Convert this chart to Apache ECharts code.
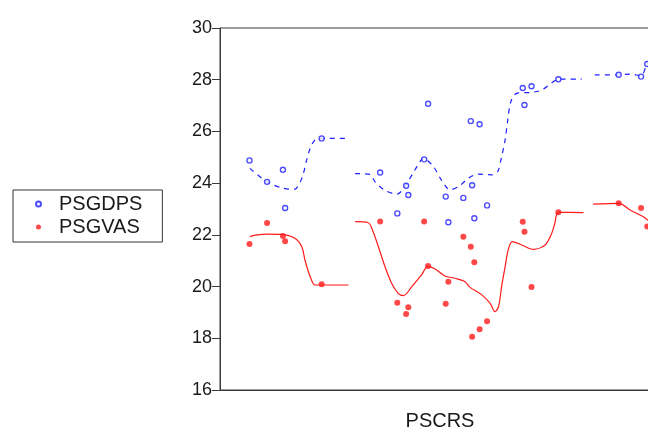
<!DOCTYPE html>
<html>
<head>
<meta charset="utf-8">
<script src="https://cdn.jsdelivr.net/npm/echarts@6/dist/echarts.min.js"></script>
<style>
  html, body { margin: 0; padding: 0; background: #fff; }
  #chart { width: 648px; height: 429px; }
</style>
</head>
<body>
<div id="chart"></div>
<script>
// PSCRS observations (horizontal position)
const pscrs = [6.7, 10.7, 14.3, 14.8, 23.1, 36.4, 40.3, 42.3, 42.8, 46.4, 47.3, 51.3, 51.9,
               55.3, 57.0, 57.3, 57.8, 59.0, 60.7, 68.8, 69.2, 70.8, 76.9, 90.6, 95.7, 97.1];
// PSGDPS observations
const psgdps = [24.88, 24.05, 24.52, 23.04, 25.73, 24.41, 22.83, 23.90, 23.54, 24.92, 27.07, 23.48, 22.49,
                23.43, 26.40, 23.92, 22.64, 26.28, 23.14, 27.68, 27.02, 27.75, 28.02, 28.19, 28.12, 28.61];
// PSGVAS observations
const psgvas = [21.65, 22.46, 21.96, 21.75, 20.09, 22.52, 19.37, 18.94, 19.20, 22.52, 20.80, 19.34, 20.19,
                21.93, 21.54, 18.06, 20.94, 18.35, 18.66, 22.51, 22.12, 19.98, 22.87, 23.22, 23.04, 22.32];

// Nearest-neighbour fit of PSGDPS on PSCRS, in three segments
const gdpsFitX = [
  [6.8, 10.7, 14.4, 16.9, 18.6, 19.7, 20.5, 21.6, 23.1, 29.2],
  [30.7, 34.1, 35.2, 37.3, 40.2, 42.0, 44.3, 46.3, 48.5, 50.4, 52.3, 54.5, 56.4, 58.7, 61.8, 63.1,
   64.0, 64.8, 65.4, 66.1, 67.4, 70.8, 73.1, 75.4, 76.9, 82.2],
  [85.2, 90.5, 93.2, 95.7, 96.8, 97.7]
];
const gdpsFitY = [
  [24.57, 24.05, 23.80, 23.76, 24.19, 24.90, 25.35, 25.67, 25.73, 25.73],
  [24.37, 24.34, 24.06, 23.74, 23.57, 23.86, 24.51, 24.96, 24.64, 24.10, 23.74, 23.90, 24.19, 24.35, 24.32, 24.44,
   25.02, 25.67, 26.44, 27.15, 27.47, 27.51, 27.60, 27.88, 28.02, 28.02],
  [28.19, 28.19, 28.22, 28.15, 28.50, 28.80]
];

// Nearest-neighbour fit of PSGVAS on PSCRS, in three segments
const gvasFitX = [
  [6.8, 8.0, 11.0, 14.0, 17.0, 18.6, 19.3, 20.5, 21.6, 23.1, 29.2],
  [30.7, 33.7, 34.8, 36.0, 37.5, 39.0, 40.5, 41.7, 43.6, 45.8, 47.2, 48.9, 51.1, 53.4, 55.7, 56.8,
   59.5, 61.4, 62.5, 63.3, 64.0, 64.8, 65.5, 66.4, 68.6, 71.2, 73.9, 75.4, 76.1, 76.9, 82.6],
  [84.8, 90.7, 93.2, 96.2, 97.7]
];
const gvasFitY = [
  [21.93, 21.99, 22.03, 22.02, 21.87, 21.54, 21.03, 20.38, 20.06, 20.06, 20.06],
  [22.51, 22.47, 22.12, 21.54, 20.77, 20.13, 19.74, 19.65, 20.00, 20.45, 20.77, 20.68, 20.41, 20.32, 20.19, 19.97,
   19.68, 19.35, 19.03, 19.22, 20.00, 20.77, 21.42, 21.74, 21.61, 21.44, 21.61, 22.06, 22.45, 22.87, 22.86],
  [23.19, 23.22, 22.96, 22.70, 22.50]
];

const yTicks = [16, 18, 20, 22, 24, 26, 28, 30];

const BLUE = '#1f1fff';
const RED = '#ff1a1a';
const FONT = 'Liberation Sans, Arial, sans-serif';

const zip = (xs, ys) => xs.map((x, i) => [x, ys[i]]);

const fitSeries = (xsSegs, ysSegs, color, dashed) => xsSegs.map((xs, k) => ({
  type: 'line',
  name: 'fit' + k,
  data: zip(xs, ysSegs[k]),
  showSymbol: false,
  smooth: 0.3,
  silent: true,
  z: 1,
  lineStyle: { color: color, width: 1.2, type: dashed ? [5, 5] : 'solid' }
}));

const chart = echarts.init(document.getElementById('chart'), null, { renderer: 'canvas' });
chart.setOption({
  animation: false,
  backgroundColor: '#ffffff',
  grid: {
    left: 220, right: -12, top: 28, bottom: 39,
    outerBoundsMode: 'none',
    containLabel: false,
    show: true, borderColor: '#3a3a3a', borderWidth: 1
  },
  legend: {
    data: ['PSGDPS', 'PSGVAS'],
    orient: 'vertical',
    left: 13, top: 190,
    padding: [4, 20, 5, 22],
    itemGap: 3,
    itemWidth: 5, itemHeight: 5,
    borderColor: '#333', borderWidth: 1, borderRadius: 0,
    textStyle: { fontFamily: FONT, fontSize: 20, color: '#1a1a1a', padding: [0, 0, 0, 13] }
  },
  xAxis: {
    type: 'value', min: 0, max: 100,
    name: 'PSCRS', nameLocation: 'middle', nameGap: 21,
    nameTextStyle: { fontFamily: FONT, fontSize: 20, color: '#1a1a1a', verticalAlign: 'top' },
    axisLine: { show: true, lineStyle: { color: '#3a3a3a' } },
    axisTick: { show: false }, axisLabel: { show: false }, splitLine: { show: false }
  },
  yAxis: {
    type: 'value', min: yTicks[0], max: yTicks[yTicks.length - 1], interval: 2,
    axisLine: { show: true, lineStyle: { color: '#3a3a3a' } },
    axisTick: { show: true, length: 8, lineStyle: { color: '#3a3a3a' } },
    axisLabel: { fontFamily: FONT, fontSize: 18, color: '#1a1a1a', margin: 8 },
    splitLine: { show: false }
  },
  series: [
    ...fitSeries(gdpsFitX, gdpsFitY, BLUE, true),
    ...fitSeries(gvasFitX, gvasFitY, RED, false),
    {
      type: 'scatter', name: 'PSGDPS',
      data: zip(pscrs, psgdps),
      symbol: 'circle', symbolSize: 5, z: 3,
      itemStyle: { color: '#ffffff', borderColor: BLUE, borderWidth: 1.4 }
    },
    {
      type: 'scatter', name: 'PSGVAS',
      data: zip(pscrs, psgvas),
      symbol: 'circle', symbolSize: 6, z: 3,
      itemStyle: { color: RED }
    }
  ]
});
</script>
</body>
</html>
